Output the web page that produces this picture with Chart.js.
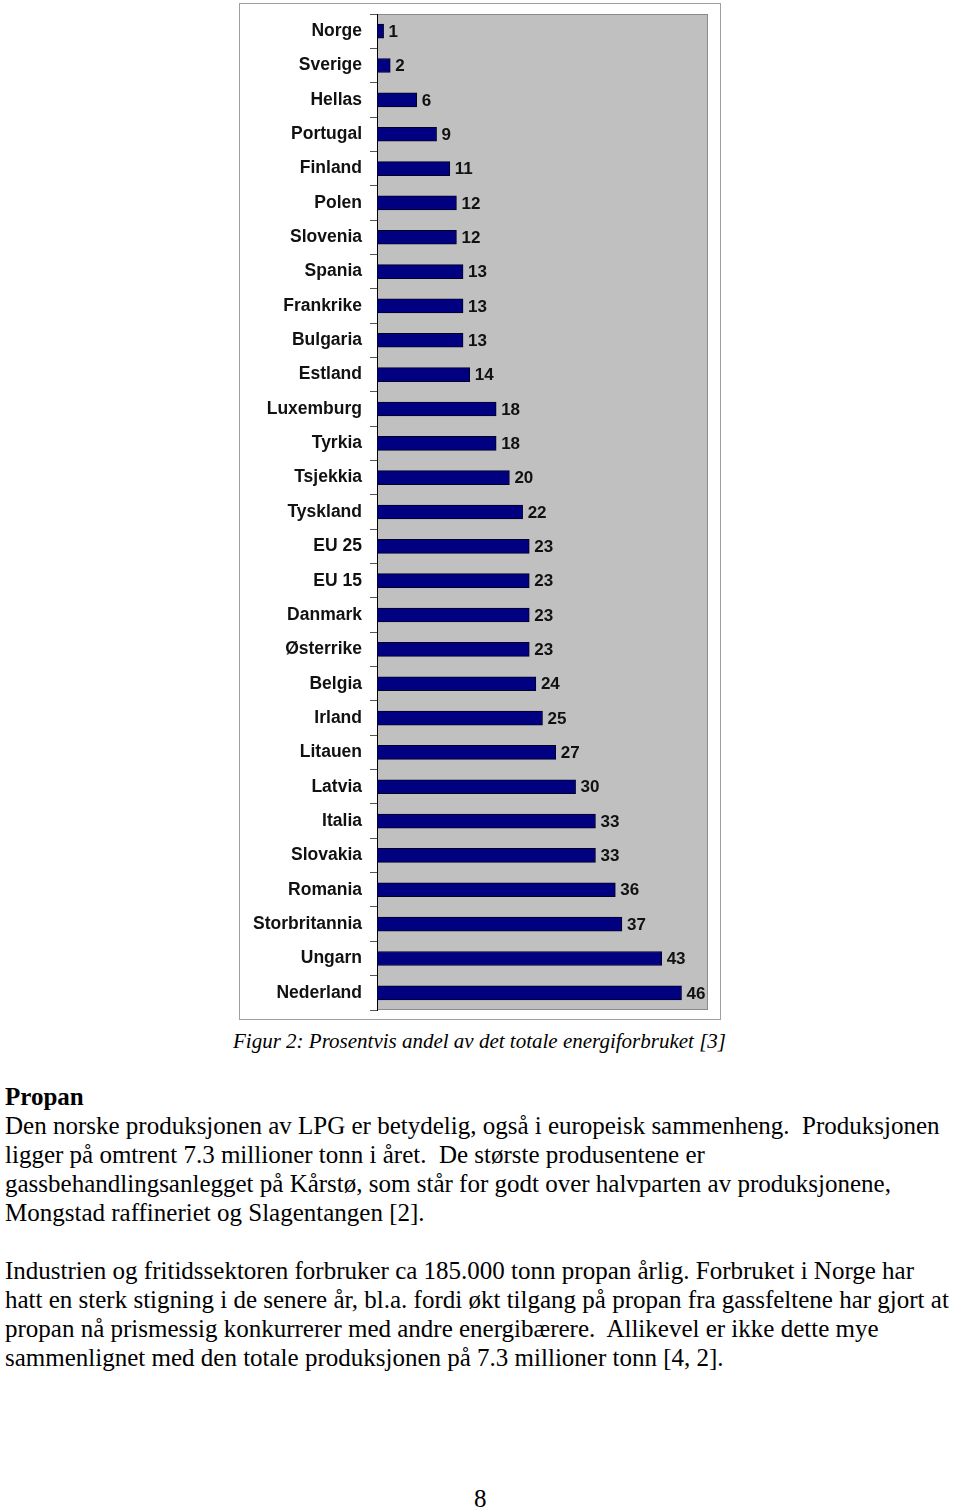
<!DOCTYPE html>
<html>
<head>
<meta charset="utf-8">
<script src="https://cdn.jsdelivr.net/npm/chart.js@4"></script>
<style>
    body { margin: 0; background: #fff; width: 960px; height: 1509px; position: relative; overflow: hidden; }
    #frame { position: absolute; left: 239px; top: 3px; width: 480px; height: 1015px; border: 1px solid #a0a0a0; }
    #frame canvas { display: block; }
    .serif { font-family: "Liberation Serif", "Times New Roman", serif; color: #000; position: absolute; white-space: nowrap; }
    #caption { left: 233px; top: 1028px; font-size: 21px; font-style: italic; line-height: 26px; }
    #body { left: 5px; top: 1082px; font-size: 25px; line-height: 29px; }
    #pagenum { left: 474px; top: 1484px; font-size: 25px; line-height: 29px; }
</style>
</head>
<body>
<div id="frame"><canvas id="energy-chart" width="480" height="1015"></canvas></div>
<div id="caption" class="serif">Figur 2: Prosentvis andel av det totale energiforbruket [3]</div>
<div id="body" class="serif">
    <b>Propan</b><br>
    Den norske produksjonen av LPG er betydelig, også i europeisk sammenheng.&nbsp; Produksjonen<br>
    ligger på omtrent 7.3 millioner tonn i året.&nbsp; De største produsentene er<br>
    gassbehandlingsanlegget på Kårstø, som står for godt over halvparten av produksjonene,<br>
    Mongstad raffineriet og Slagentangen [2].<br>
    <br>
    Industrien og fritidssektoren forbruker ca 185.000 tonn propan årlig. Forbruket i Norge har<br>
    hatt en sterk stigning i de senere år, bl.a. fordi økt tilgang på propan fra gassfeltene har gjort at<br>
    propan nå prismessig konkurrerer med andre energibærere.&nbsp; Allikevel er ikke dette mye<br>
    sammenlignet med den totale produksjonen på 7.3 millioner tonn [4, 2].
</div>
<div id="pagenum" class="serif">8</div>
<script>
const countries = ['Norge', 'Sverige', 'Hellas', 'Portugal', 'Finland', 'Polen', 'Slovenia', 'Spania',
    'Frankrike', 'Bulgaria', 'Estland', 'Luxemburg', 'Tyrkia', 'Tsjekkia', 'Tyskland', 'EU 25', 'EU 15',
    'Danmark', 'Østerrike', 'Belgia', 'Irland', 'Litauen', 'Latvia', 'Italia', 'Slovakia', 'Romania',
    'Storbritannia', 'Ungarn', 'Nederland'];
const shares = [1, 2, 6, 9, 11, 12, 12, 13, 13, 13, 14, 18, 18, 20, 22, 23, 23, 23, 23, 24, 25, 27, 30,
    33, 33, 36, 37, 43, 46];
const axisMax = 50;

// grey plot area like the old Excel chart
const plotBackground = {
    id: 'plotBackground',
    beforeDraw(chart) {
        const { ctx, chartArea } = chart;
        ctx.save();
        ctx.fillStyle = '#c0c0c0';
        ctx.fillRect(chartArea.left, chartArea.top, chartArea.right - chartArea.left, chartArea.bottom - chartArea.top);
        ctx.strokeStyle = '#8a8a8a';
        ctx.lineWidth = 1;
        ctx.strokeRect(chartArea.left + 0.5, chartArea.top + 0.5, chartArea.right - chartArea.left - 1, chartArea.bottom - chartArea.top - 1);
        ctx.restore();
    }
};

// value printed right of each bar
const valueLabels = {
    id: 'valueLabels',
    afterDatasetsDraw(chart) {
        const { ctx } = chart;
        const meta = chart.getDatasetMeta(0);
        ctx.save();
        ctx.font = 'bold 17px "Liberation Sans", Arial, sans-serif';
        ctx.fillStyle = '#111';
        ctx.textAlign = 'left';
        ctx.textBaseline = 'middle';
        meta.data.forEach((bar, i) => {
            ctx.fillText(String(shares[i]), bar.x + 5, bar.y + 1);
        });
        ctx.restore();
    }
};

new Chart(document.getElementById('energy-chart'), {
    type: 'bar',
    data: {
        labels: countries,
        datasets: [{
            data: shares,
            backgroundColor: '#000080',
            borderColor: '#000022',
            borderWidth: 1,
            borderSkipped: false,
            barThickness: 14
        }]
    },
    options: {
        indexAxis: 'y',
        responsive: false,
        animation: false,
        layout: { padding: { top: 10, bottom: 9, right: 12, left: 0 } },
        scales: {
            x: {
                display: false,
                min: 0,
                max: axisMax
            },
            y: {
                afterFit: function(scale) {
                    scale.width = 137;
                    scale.paddingTop = 0;
                    scale.paddingBottom = 0;
                },
                grid: {
                    offset: true,
                    drawOnChartArea: false,
                    color: '#000',
                    tickLength: 7,
                    tickColor: '#555'
                },
                border: { color: '#000', width: 1 },
                ticks: {
                    color: '#111',
                    padding: 8,
                    autoSkip: false,
                    font: { family: '"Liberation Sans", Arial, sans-serif', size: 17.5, weight: 'bold' }
                }
            }
        },
        plugins: {
            legend: { display: false },
            tooltip: { enabled: false }
        }
    },
    plugins: [plotBackground, valueLabels]
});
</script>
</body>
</html>
